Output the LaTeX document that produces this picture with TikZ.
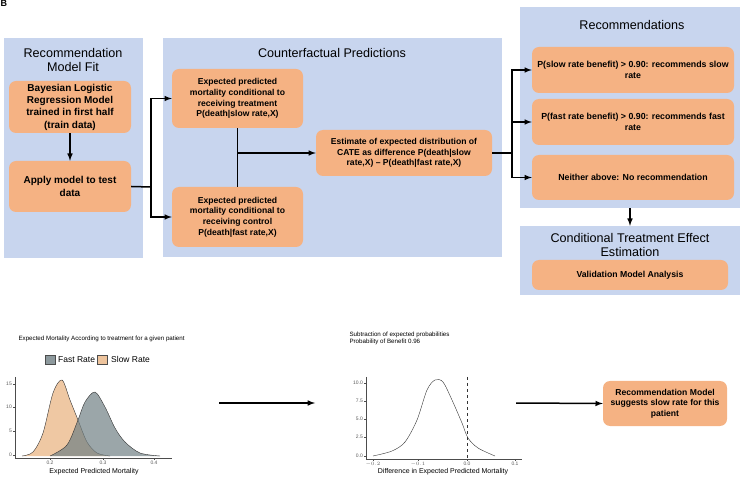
\documentclass[tikz,border=0pt]{standalone}
\usepackage{fontspec}
\setmainfont{Liberation Sans}
\definecolor{panelblue}{RGB}{200,213,238}
\definecolor{boxorange}{RGB}{245,178,131}
\definecolor{slowfill}{RGB}{232,176,124}
\definecolor{fastfill}{RGB}{112,128,132}
\tikzset{
  panel/.style={fill=panelblue, inner sep=0pt},
  paneltitle/.style={font=\fontsize{12.6}{14}\selectfont, align=center},
  box/.style={fill=boxorange, rounded corners=7pt, align=center, inner sep=0pt,
    font=\bfseries\fontsize{8.6}{10.7}\selectfont},
  arr/.style={-latex, line width=1.5pt},
  link/.style={line width=1.5pt},
  ticklab/.style={font=\fontsize{5}{6}\selectfont, text=black!65},
  axislab/.style={font=\fontsize{7}{8}\selectfont},
}
\begin{document}
\begin{tikzpicture}[x=1pt, y=-1pt]
\useasboundingbox (0,0) rectangle (742,478);
\node[font=\bfseries\fontsize{9}{10}\selectfont, anchor=north west, inner sep=0pt] (tag) at (0.5,0.5) {B};

% Panels
\node[panel, minimum width=139pt, minimum height=220pt] (fitPanel) at (73.5,148) {};
\node[panel, minimum width=339pt, minimum height=219pt] (cfPanel) at (332.5,147.5) {};
\node[panel, minimum width=220pt, minimum height=201pt] (recPanel) at (630,107.5) {};
\node[panel, minimum width=220pt, minimum height=69pt] (cteePanel) at (630,260.5) {};

% Titles
\node[paneltitle] (fitTitle) at (73,60) {Recommendation\\Model Fit};
\node[paneltitle] (cfTitle) at (332,53) {Counterfactual Predictions};
\node[paneltitle] (recTitle) at (632,25) {Recommendations};
\node[paneltitle] (cteeTitle) at (630,245) {Conditional Treatment Effect\\Estimation};

% Boxes
\node[box, minimum width=122pt, minimum height=52pt, font=\bfseries\fontsize{10}{12.3}\selectfont] (bayes) at (70,107)
  {Bayesian Logistic\\Regression Model\\trained in first half\\(train data)};
\node[box, minimum width=122pt, minimum height=51pt, font=\bfseries\fontsize{10}{12.3}\selectfont] (apply) at (70,186.5)
  {Apply model to test\\data};
\node[box, minimum width=131pt, minimum height=59pt] (predSlow) at (237.5,98.5)
  {Expected predicted\\mortality conditional to\\receiving treatment\\P(death|slow rate,X)};
\node[box, minimum width=131pt, minimum height=60pt] (predFast) at (237.5,217)
  {Expected predicted\\mortality conditional to\\receiving control\\P(death|fast rate,X)};
\node[box, minimum width=176pt, minimum height=46pt] (cate) at (404,153)
  {Estimate of expected distribution of\\CATE as difference P(death|slow\\rate,X) -- P(death|fast rate,X)};
\node[box, minimum width=202pt, minimum height=46pt, font=\bfseries\fontsize{8.8}{11}\selectfont] (recSlow) at (633,70)
  {P(slow rate benefit) > 0.90: recommends slow\\rate};
\node[box, minimum width=202pt, minimum height=46pt, font=\bfseries\fontsize{8.8}{11}\selectfont] (recFast) at (633,122)
  {P(fast rate benefit) > 0.90: recommends fast\\rate};
\node[box, minimum width=202pt, minimum height=45pt, font=\bfseries\fontsize{8.8}{11}\selectfont] (recNone) at (633,177.5)
  {Neither above: No recommendation};
\node[box, minimum width=196pt, minimum height=30pt, font=\bfseries\fontsize{8.7}{11}\selectfont] (valid) at (630,275)
  {Validation Model Analysis};
\node[box, minimum width=124pt, minimum height=45pt, font=\bfseries\fontsize{8.6}{10.5}\selectfont] (final) at (665,403.5)
  {Recommendation Model\\suggests slow rate for this\\patient};

% Arrows
\coordinate (splitA) at (151,187);
\coordinate (joinB) at (237.5,153);
\coordinate (splitC) at (512,153);
\draw[arr] (bayes) -- (apply);
\draw[link] (apply.east) -- (splitA);
\draw[arr] (splitA) |- (predSlow.west);
\draw[arr] (splitA) |- (predFast.west);
\draw[link] (predSlow.south) -- (predFast.north);
\draw[arr] (joinB) -- (cate.west);
\draw[link] (cate.east) -- (splitC);
\draw[arr] (splitC) |- (recSlow.west);
\draw[arr] (splitC) |- (recFast.west);
\draw[arr] (splitC) |- (recNone.west);
\draw[arr] (recPanel.south) -- (cteePanel.north);

% Density plot of both rates
\node[font=\fontsize{6.2}{7}\selectfont, anchor=west] (densTitle) at (15,339)
  {Expected Mortality According to treatment for a given patient};
\draw[black!70, fill=fastfill!80!white] (45,355) rectangle (55,364);
\node[font=\fontsize{8.5}{10}\selectfont, anchor=west, inner sep=0pt] (fastLab) at (58,359.5) {Fast Rate};
\draw[black!70, fill=slowfill!75!white] (97,355) rectangle (107,364);
\node[font=\fontsize{8.5}{10}\selectfont, anchor=west, inner sep=0pt] (slowLab) at (111,359.5) {Slow Rate};
\draw[black!80, fill=slowfill, fill opacity=0.7] plot[smooth] coordinates
  {(22,456) (33,452) (43,433) (53,393) (62,380) (70,400) (78,420) (87,442) (97,453) (110,456)};
\draw[black!80, fill=fastfill, fill opacity=0.7] plot[smooth] coordinates
  {(50,456) (67,445) (78,420) (85,402) (95,392) (105,407) (115,428) (125,442) (140,453) (160,456)};
\draw[black!70] (15,377) -- (15,458) -- (172,458);
\foreach \v/\px in {0.2/50, 0.3/103, 0.4/154}
  \draw[black!70] (\px,458) -- (\px,460) node[ticklab, below, inner sep=1pt] {\v};
\foreach \v/\py in {0/455, 5/431, 10/407, 15/384}
  \draw[black!70] (15,\py) -- (13,\py) node[ticklab, left, inner sep=1pt] {\v};
\node[axislab] (densXLab) at (94,472) {Expected Predicted Mortality};

% Difference plot
\node[font=\fontsize{6.2}{7}\selectfont, anchor=west, align=left] (diffTitle) at (346,338.5)
  {Subtraction of expected probabilities\\Probability of Benefit 0.96};
\draw[black!80] plot[smooth] coordinates
  {(373,456) (392,451) (405,442) (417,420) (427,390) (435,380) (443,382) (452,400) (462,423) (468,438) (478,448) (495,456)};
\draw[black!80, dashed] (467,377) -- (467,458);
\draw[black!70] (366,377) -- (366,459) -- (522,459);
\foreach \v/\px in {$-0.2$/373, $-0.1$/418, 0.0/467, 0.1/515}
  \draw[black!70] (\px,459) -- (\px,461) node[ticklab, below, inner sep=1pt] {\v};
\foreach \v/\py in {0.0/456, 2.5/437, 5.0/419, 7.5/401, 10.0/383}
  \draw[black!70] (366,\py) -- (364,\py) node[ticklab, left, inner sep=1pt] {\v};
\node[axislab] (diffXLab) at (443,472) {Difference in Expected Predicted Mortality};

% Bottom arrows
\coordinate (densEnd) at (219,403);
\coordinate (diffStart) at (315,403);
\coordinate (diffEnd) at (516,403);
\draw[arr] (densEnd) -- (diffStart);
\draw[arr] (diffEnd) -- (final.west);
\end{tikzpicture}
\end{document}
